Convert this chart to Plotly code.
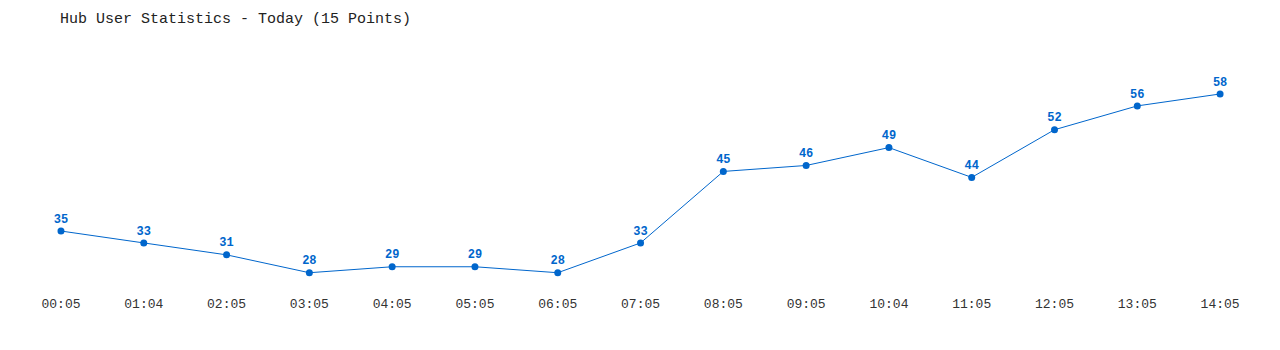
import plotly.graph_objects as go

times = ["00:05", "01:04", "02:05", "03:05", "04:05", "05:05", "06:05", "07:05",
         "08:05", "09:05", "10:04", "11:05", "12:05", "13:05", "14:05"]
users = [35, 33, 31, 28, 29, 29, 28, 33, 45, 46, 49, 44, 52, 56, 58]

blue = "#0066cc"
fig = go.Figure()
fig.add_trace(go.Scatter(
    x=list(range(len(times))), y=users,
    mode="lines+markers+text",
    line=dict(color=blue, width=1),
    marker=dict(color=blue, size=7),
    text=[str(v) for v in users],
    textposition="top center",
    textfont=dict(family="Liberation Mono", size=12, color=blue, weight="bold"),
    cliponaxis=False,
    hoverinfo="skip",
))
fig.update_layout(
    width=1280, height=350,
    margin=dict(l=20, r=20, t=40, b=60),
    paper_bgcolor="white", plot_bgcolor="white",
    showlegend=False,
    title=dict(text="Hub User Statistics - Today (15 Points)", x=60/1280, xanchor="left",
               y=1 - 18/350, yanchor="middle",
               font=dict(family="Liberation Mono", size=15, color="#222222")),
    xaxis=dict(range=[-0.495, 14.482], tickmode="array",
               tickvals=list(range(len(times))), ticktext=times,
               showgrid=False, zeroline=False, showline=False,
               ticks="", ticklabelstandoff=4,
               tickfont=dict(family="Liberation Mono", size=13, color="#333333")),
    yaxis=dict(range=[25.1, 67.06], showgrid=False, zeroline=False, showline=False,
               showticklabels=False, ticks=""),
)
fig.write_html("out.html")
